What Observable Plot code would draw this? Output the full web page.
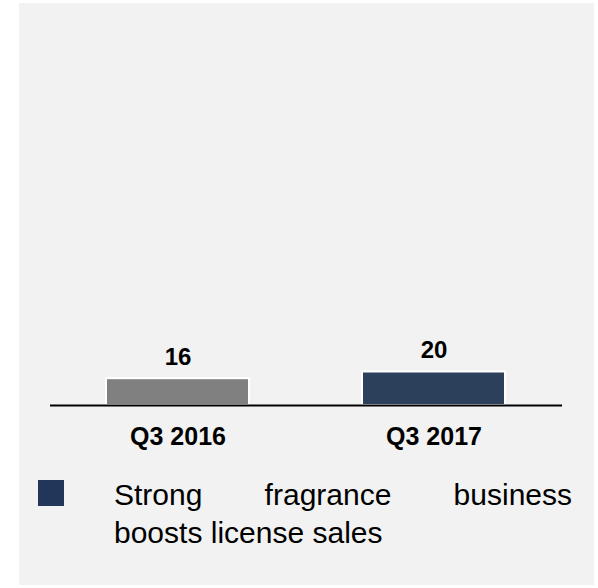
<!DOCTYPE html>
<html>
<head>
<meta charset="utf-8">
<script src="https://cdn.jsdelivr.net/npm/d3@7"></script>
<script src="https://cdn.jsdelivr.net/npm/@observablehq/plot@0.6"></script>
<style>
  html, body { margin: 0; padding: 0; background: #ffffff; }
  body { width: 598px; height: 588px; position: relative; overflow: hidden; font-family: "Liberation Sans", Arial, sans-serif; }
  #panel { position: absolute; left: 19px; top: 3px; width: 575px; height: 582px; background: #f2f2f2; }
  #chart { position: absolute; left: 0; top: 0; }
  #legend-swatch { position: absolute; left: 19px; top: 477px; width: 26px; height: 26px; }
  .legend-line { position: absolute; left: 95px; width: 458px; font-size: 30px; color: #000; white-space: nowrap; }
  #line1 { top: 475px; text-align: justify; text-align-last: justify; white-space: normal; }
  #line2 { top: 513px; }
</style>
</head>
<body>
<div id="panel">
  <div id="chart"></div>
  <div id="legend-swatch"></div>
  <div class="legend-line" id="line1"></div>
  <div class="legend-line" id="line2"></div>
</div>
<script>
const categories = ["Q3 2016", "Q3 2017"];
const values = [16, 20];
const barColors = ["#808080", "#2c3f5b"];
const legendColor = "#213659";
const legendLines = ["Strong fragrance business", "boosts license sales"];

const data = categories.map((c, i) => ({category: c, value: values[i], color: barColors[i]}));

const chart = Plot.plot({
  width: 575,
  height: 460,
  marginLeft: 31,
  marginRight: 32,
  marginTop: 0,
  marginBottom: 58,
  style: {background: "transparent", fontFamily: "'Liberation Sans', Arial, sans-serif", color: "#000"},
  x: {domain: categories, paddingInner: 0.44, paddingOuter: 0.22, label: null},
  y: {domain: [0, 20], range: [402, 368.5], axis: null},
  marks: [
    Plot.barY(data, {x: "category", y: "value", fill: "color", stroke: "#ffffff", strokeWidth: 2}),
    Plot.ruleY([0], {stroke: "#000", strokeWidth: 2}),
    Plot.text(data, {x: "category", y: "value", text: d => String(d.value), lineAnchor: "bottom", dy: -14, fontSize: 24, fontWeight: "bold", fill: "#000"}),
    Plot.axisX({tickSize: 0, tickPadding: 22, fontSize: 25, fontWeight: "bold", fill: "#000", label: null})
  ]
});
document.getElementById("chart").appendChild(chart);
document.getElementById("legend-swatch").style.background = legendColor;
document.getElementById("line1").textContent = legendLines[0];
document.getElementById("line2").textContent = legendLines[1];
</script>
</body>
</html>
